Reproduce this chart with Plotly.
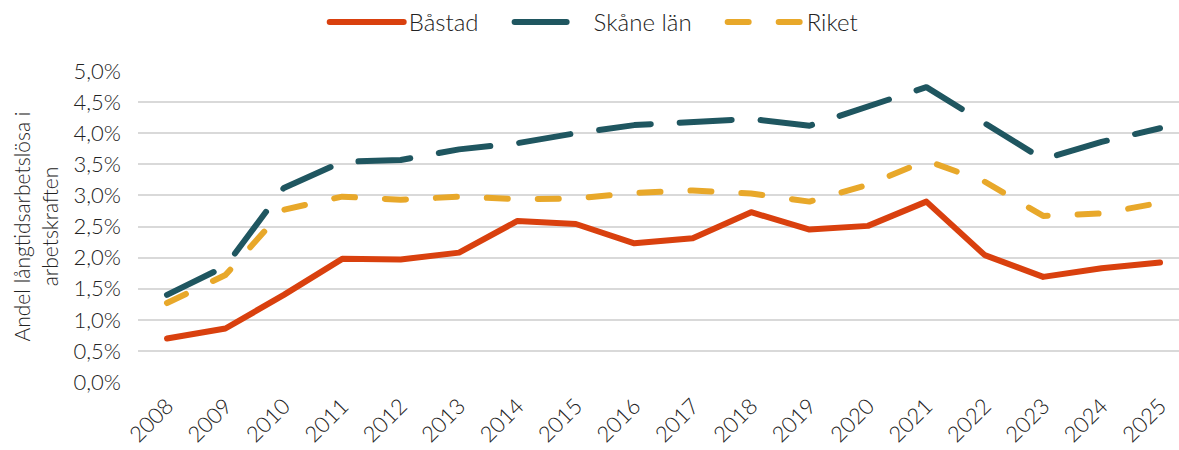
import plotly.graph_objects as go

years = list(range(2008, 2026))
bastad = [0.70, 0.86, 1.40, 1.98, 1.97, 2.08, 2.59, 2.54, 2.23, 2.31, 2.73, 2.45, 2.51, 2.90, 2.04, 1.69, 1.83, 1.92]
skane = [1.40, 1.86, 3.12, 3.54, 3.57, 3.74, 3.84, 4.00, 4.13, 4.18, 4.23, 4.12, 4.44, 4.74, 4.16, 3.58, 3.86, 4.08]
riket = [1.27, 1.72, 2.77, 2.98, 2.93, 2.98, 2.94, 2.95, 3.04, 3.08, 3.03, 2.90, 3.17, 3.56, 3.22, 2.67, 2.71, 2.88]
y_ticks = [0, 0.5, 1.0, 1.5, 2.0, 2.5, 3.0, 3.5, 4.0, 4.5, 5.0]
y_labels = [f"{v:.1f}".replace(".", ",") + "%" for v in y_ticks]

PAD = "\u00a0" * 4
FONT = "Lato"
fig = go.Figure()
fig.add_trace(go.Scatter(x=years, y=bastad, name="Båstad" + PAD, mode="lines",
                         line=dict(color="#D9400E", width=6)))
fig.add_trace(go.Scatter(x=years, y=skane, name="Skåne län" + PAD, mode="lines",
                         line=dict(color="#1F5660", width=6, dash="52px,29px")))
fig.add_trace(go.Scatter(x=years, y=riket, name="Riket", mode="lines",
                         line=dict(color="#E8A82A", width=6, dash="21px,30px")))

fig.update_layout(
    width=1179, height=450,
    margin=dict(l=138, r=0, t=71, b=68),
    plot_bgcolor="white", paper_bgcolor="white",
    font=dict(family=FONT, size=22, color="#222222", weight=300),
    legend=dict(orientation="h", xref="container", yref="container",
                x=0.504, xanchor="center", y=1.0, yanchor="top",
                font=dict(size=24), itemwidth=74),
    xaxis=dict(range=[2008 - 0.4965, 2025 + 0.325], tickvals=years,
               ticktext=[str(y) for y in years], tickangle=-45,
               showgrid=False, zeroline=False, showline=False, automargin=False,
               ticklabelstandoff=6, tickfont=dict(size=22)),
    yaxis=dict(range=[0, 5.0], tickvals=y_ticks, ticktext=y_labels,
               showgrid=True, gridcolor="#D9D9D9", gridwidth=1.5,
               zeroline=False, showline=False, ticks="", ticklabelstandoff=16,
               automargin=False, tickfont=dict(size=22),
               title=dict(text="Andel långtidsarbetslösa i<br>arbetskraften",
                          font=dict(size=21), standoff=9)),
)

post = """
document.body.style.margin = '0';
var gd = document.getElementById('{plot_id}');
function rc(){
  gd.querySelectorAll('.scatterlayer path.js-line, .legend path.js-line').forEach(function(p){
    p.style.strokeLinecap = 'round';
    p.style.strokeLinejoin = 'round';
  });
}
rc();
gd.on('plotly_afterplot', rc);
"""
fig.write_html("out.html", post_script=post, config={"displayModeBar": False})
